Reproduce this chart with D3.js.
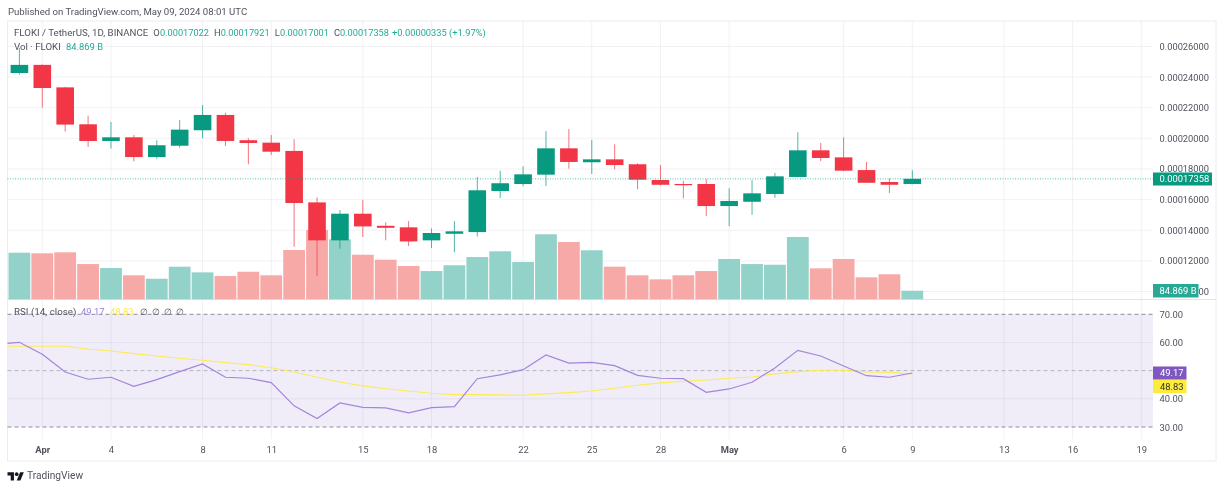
<!DOCTYPE html>
<html><head><meta charset="utf-8">
<script src="https://cdn.jsdelivr.net/npm/d3@7/dist/d3.min.js"></script>
<style>
html,body{margin:0;padding:0;background:#fff;overflow:hidden}
svg{display:block;filter:blur(0.3px)}
text{font-family:Roboto,"Liberation Sans",sans-serif;font-size:9.4px;fill:#50535e}
.domain{display:none}
</style></head><body><div id="c"></div>
<script>
// prices are in units of 0.00001 USDT, volume in billions
const opens =[24.27,24.80,23.33,20.92,19.83,20.07,18.78,19.52,20.53,21.53,19.88,19.72,19.18,15.82,13.34,15.08,14.29,14.19,13.34,13.77,13.88,16.56,17.02,17.63,19.35,18.44,18.63,18.31,17.28,17.02,17.02,15.58,15.86,16.37,17.48,19.22,18.76,17.93,17.15,17.022];
const closes=[24.80,23.29,20.90,19.83,20.07,18.78,19.55,20.57,21.53,19.83,19.70,19.13,15.78,13.34,15.08,14.25,14.16,13.27,13.82,13.93,16.61,17.07,17.65,19.35,18.46,18.63,18.26,17.30,16.97,16.97,15.58,15.91,16.41,17.52,19.22,18.72,17.89,17.10,16.97,17.358];
const highs =[25.91,24.83,23.36,21.48,21.07,20.22,19.88,21.20,22.18,21.68,20.01,20.22,19.94,16.15,15.32,15.97,14.52,14.60,14.12,14.60,17.48,17.89,18.18,20.48,20.61,19.90,19.61,18.37,18.26,17.22,17.35,16.74,17.28,17.74,20.40,19.70,20.07,18.46,17.39,17.921];
const lows  =[24.16,22.01,20.44,19.44,19.33,18.50,18.67,19.39,20.01,19.50,18.31,18.92,12.92,11.03,12.79,13.56,13.34,12.97,12.84,12.56,13.58,16.10,16.87,16.89,18.02,17.67,17.98,16.67,16.93,16.08,14.93,14.27,15.01,16.12,17.48,18.52,17.85,17.10,16.43,17.001];
const volumes=[460,454,464,348,309,237,203,322,266,230,272,237,487,684,592,440,391,329,279,336,417,474,368,642,566,484,322,237,197,237,279,398,348,341,615,306,398,217,247,84.869];
const rsiDays=[-1,0,1,2,3,4,5,6,7,8,9,10,11,12,13,14,15,16,17,18,19,20,21,22,23,24,25,26,27,28,29,30,31,32,33,34,35,36,37,38,39];
const rsi  =[59.4,60.07,55.8,49.5,46.95,47.65,44.45,46.8,49.65,52.4,47.65,47.3,45.75,37.5,33.0,38.55,37.0,36.8,35.0,36.9,37.25,47.15,48.5,50.35,55.55,52.7,52.95,51.8,48.35,47.3,47.15,42.3,43.5,45.9,50.95,57.2,55.2,51.65,48.2,47.65,49.17];
const rsiMa=[58.65,58.65,58.65,58.65,57.7,57.0,56.05,55.2,54.4,53.7,52.85,52.15,51.05,49.55,47.65,46.0,44.6,43.6,42.8,42.0,41.5,41.5,41.4,41.25,41.75,42.2,42.8,43.75,44.8,45.65,46.25,46.7,47.3,47.75,48.85,49.65,50.15,50.15,49.55,49.4,48.83];
const priceTicks=[10,12,14,16,18,20,22,24,26];
const rsiTicks=[30,40,60,70];
const rsiLevels=[70,50,30];
const timeTicks=[1,4,8,11,15,18,22,25,28,31,36,39,43,46,49];
const timeLabels=["Apr","4","8","11","15","18","22","25","28","May","6","9","13","16","19"];
const boldLabels=["Apr","May"];
const lastPriceLabel="0.00017358", lastVolLabel="84.869 B", lastRsiLabel="49.17", lastMaLabel="48.83";

const UP="#089981",DOWN="#f23645",UPV="#93d2c9",DOWNV="#f7a9a7";
const W=1224,H=489,L=7.5,R=1153,FR=1216,T=21,B=461;
const svg=d3.select("#c").append("svg").attr("width",W).attr("height",H);
const x=d3.scaleLinear().domain([0,39]).range([19.4,912.3]);
const y=d3.scaleLinear().domain([10,26]).range([291.5,46.5]);
const yV=d3.scaleLinear().domain([0,700]).range([299.3,228.4]);
const yR=d3.scaleLinear().domain([30,70]).range([427,314.3]);
svg.append("defs").append("clipPath").attr("id","clip").append("rect").attr("x",L).attr("y",T).attr("width",R-L).attr("height",B-T);

// RSI band first, then grid over it
svg.append("rect").attr("x",L).attr("y",yR(70)).attr("width",R-L).attr("height",yR(30)-yR(70)).attr("fill","#f0edf9");
const gridColor="rgba(70,70,110,0.07)";
const gx=svg.append("g");
gx.selectAll("line").data(timeTicks).join("line").attr("x1",d=>x(d)).attr("x2",d=>x(d)).attr("y1",T).attr("y2",439).attr("stroke",gridColor);
const gy=svg.append("g");
gy.selectAll("line").data(priceTicks).join("line").attr("x1",L).attr("x2",R).attr("y1",d=>y(d)).attr("y2",d=>y(d)).attr("stroke",gridColor);
svg.append("g").selectAll("line").data([60,40]).join("line").attr("x1",L).attr("x2",R).attr("y1",d=>yR(d)).attr("y2",d=>yR(d)).attr("stroke",gridColor);
// frame & separator
svg.append("rect").attr("x",L).attr("y",T).attr("width",FR-L).attr("height",B-T).attr("fill","none").attr("stroke","#ececf1");
svg.append("line").attr("x1",L).attr("x2",FR).attr("y1",299.5).attr("y2",299.5).attr("stroke","#e3e3ea");

// Volume bars
svg.append("g").selectAll("rect").data(volumes).join("rect")
 .attr("x",(d,i)=>x(i)-10.9).attr("width",21.8).attr("y",d=>yV(d)).attr("height",d=>yV(0)-yV(d))
 .attr("fill",(d,i)=>closes[i]>=opens[i]?UPV:DOWNV);

// Candles
const cg=svg.append("g").selectAll("g").data(d3.range(opens.length)).join("g");
cg.append("line").attr("x1",i=>x(i)).attr("x2",i=>x(i)).attr("y1",i=>y(highs[i])).attr("y2",i=>y(lows[i]))
 .attr("stroke",i=>closes[i]>=opens[i]?UP:DOWN).attr("stroke-width",1).attr("stroke-opacity",.7);
cg.append("rect").attr("x",i=>x(i)-8.8).attr("width",17.6)
 .attr("y",i=>y(Math.max(opens[i],closes[i])))
 .attr("height",i=>Math.max(1.2,Math.abs(y(opens[i])-y(closes[i]))))
 .attr("fill",i=>closes[i]>=opens[i]?UP:DOWN);

// last price line
svg.append("line").attr("x1",L).attr("x2",R).attr("y1",y(closes[39])).attr("y2",y(closes[39]))
 .attr("stroke",UP).attr("stroke-opacity",.65).attr("stroke-dasharray","1 1.5");

// RSI levels
svg.append("g").selectAll("line").data(rsiLevels).join("line").attr("x1",L).attr("x2",R)
 .attr("y1",d=>yR(d)).attr("y2",d=>yR(d)).attr("stroke",d=>d===50?"#b5b3bd":"#8f8d98").attr("stroke-dasharray","4 3");
// RSI lines
const lineMa=d3.line().x((d,i)=>x(rsiDays[i])).y(d=>yR(d));
const clip=svg.append("g").attr("clip-path","url(#clip)");
clip.append("path").attr("d",lineMa(rsiMa)).attr("fill","none").attr("stroke","#fdeb55").attr("stroke-width",1.1);
clip.append("path").attr("d",lineMa(rsi)).attr("fill","none").attr("stroke","#a385dc").attr("stroke-width",1.2);

// Axes
const fmtP=d=>(d/100000).toFixed(8);
const axP=svg.append("g").attr("transform",`translate(${R},0)`).call(d3.axisRight(y).tickValues(priceTicks).tickFormat(fmtP).tickSize(0).tickPadding(6.5));
axP.selectAll("text").style("font-size","9.3px");
svg.append("g").attr("transform",`translate(${R},0)`).call(d3.axisRight(yR).tickValues(rsiTicks).tickFormat(d=>d.toFixed(2)).tickSize(0).tickPadding(6.5));
const axT=svg.append("g").attr("transform","translate(0,447)").call(d3.axisBottom(x).tickValues(timeTicks).tickFormat((d,i)=>timeLabels[i]).tickSize(0).tickPadding(0));
axT.selectAll("text").attr("font-weight",(d,i)=>boldLabels.includes(timeLabels[i])?700:400).attr("dy","0.35em").attr("y",3);

// value badges
function badge(x0,x1,y0,y1,fill,txt,col,tx){
 svg.append("rect").attr("x",x0).attr("y",y0).attr("width",x1-x0).attr("height",y1-y0).attr("fill",fill);
 svg.append("text").attr("x",tx).attr("y",(y0+y1)/2).attr("dy","0.35em").text(txt).style("fill",col);
}
badge(R,1212,172.5,185.5,UP,lastPriceLabel,"#fff",1159.5);
badge(R,1198.5,284,297.5,"#2aa896",lastVolLabel,"#fff",1159.5);
badge(R,1186.5,366.5,379.7,"#7e57c2",lastRsiLabel,"#fff",1160);
badge(R,1186.5,379.7,393,"#ffeb3b",lastMaLabel,"#33322a",1160);

// Legends
function t(xp,yp,s,col,extra){const e=svg.append("text").attr("x",xp).attr("y",yp).attr("dy","0.35em").text(s);if(col)e.style("fill",col);if(extra)e.style("font-size",extra);return e;}
const TEAL="#22ab94";
t(8,12,"Published on TradingView.com, May 09, 2024 08:01 UTC","#50535e","9.6px");
t(14,33,"FLOKI / TetherUS, 1D, BINANCE",null,"9.7px");
[["O",153.3,160,"0.00017022"],["H",214,220.7,"0.00017921"],["L",274.7,280,"0.00017001"],["C",334,340,"0.00017358"]].forEach(a=>{t(a[1],33,a[0]);t(a[2],33,a[3],TEAL,"9.2px");});
t(392,33,"+0.00000335 (+1.97%)",TEAL,"9.3px");
t(14,47,"Vol · FLOKI",null,"9.7px");
t(66,47,lastVolLabel,TEAL);
t(14,312,"RSI (14, close)",null,"9.8px");
t(81,312,lastRsiLabel,"#9a7fd6");
t(110,312,lastMaLabel,"#fbe94d");
[140,152,164,176].forEach(v=>t(v,312,"∅"));

// Logo
const logo=svg.append("g").attr("transform","translate(7.5,470.5) scale(0.46)").attr("fill","#131722");
logo.append("path").attr("d","M14 22H7V11H0V4h14v18zM28 22h-8l7.5-18h8L28 22z");
logo.append("circle").attr("cx",20).attr("cy",8).attr("r",4);
t(27,475.5,"TradingView","#50535e","10.2px");
</script></body></html>
